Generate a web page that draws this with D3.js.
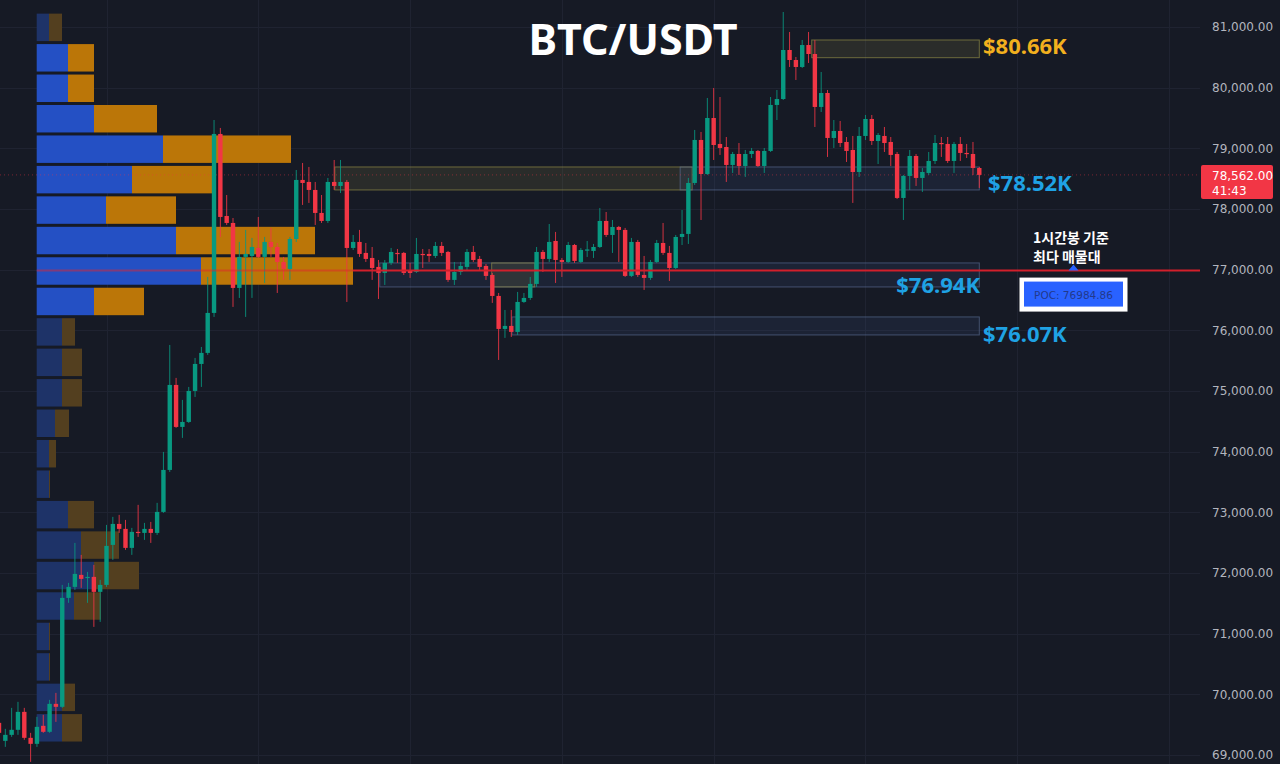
<!DOCTYPE html>
<html><head><meta charset="utf-8">
<script src="https://cdn.jsdelivr.net/npm/d3@7"></script>
<style>
html,body{margin:0;padding:0;background:#161a25;overflow:hidden;}
svg{display:block;}
</style></head><body>
<svg id="c" width="1280" height="764"></svg>
<script>
// ---------- DATA (1h candles, BTC/USDT) ----------
const opens = [69530,69233,69332,69415,69711,69283,69184,69481,69382,69843,
69794,71590,71771,71969,71920,71936,71689,71804,72463,72809,
72727,72414,72678,72661,72727,72661,73007,73699,75100,74408,
74490,75001,75446,75628,76287,79237,77885,77770,76699,77210,
77226,77358,77210,77457,77374,77127,77012,77506,78479,78446,
78314,77935,77803,78446,78380,78446,77358,77457,77276,77193,
77045,76946,77111,77276,77276,76979,76962,77259,77259,77226,
77391,77292,76831,76962,77045,77292,77177,77061,76913,76567,
76023,76073,75974,76468,76534,76765,77292,77177,77473,77160,
77127,77407,77127,77317,77309,77374,77803,77572,77704,77655,
76897,77457,76913,76864,77127,77440,77276,77028,77539,77589,
78429,79138,78577,79500,79072,79022,78726,78907,78709,78907,
78957,78709,78957,79715,79813,80621,80456,80341,80703,80555,
79682,79912,79171,79286,79105,78973,78610,79204,79484,79121,
79204,79105,78907,78182,78545,78874,78512,78594,78792,79088,
79072,78792,79072,78924,78907,78676];
const closes = [69365,69332,69415,69711,69283,69184,69464,69382,69843,69794,
71590,71771,71985,71903,71936,71689,71804,72447,72809,72727,
72414,72678,72661,72727,72661,73007,73699,75100,74408,74490,
75001,75446,75628,76287,79237,77869,77770,76699,77210,77259,
77374,77210,77457,77374,77127,77012,77506,78479,78429,78314,
77935,77803,78446,78380,78446,77358,77457,77259,77177,77028,
76946,77111,77292,77259,76946,76946,77259,77243,77226,77391,
77276,76831,76962,77061,77292,77160,77045,76897,76567,76023,
76073,75974,76468,76534,76765,77292,77177,77457,77160,77127,
77407,77144,77325,77333,77374,77803,77572,77704,77655,76897,
77457,76913,76864,77127,77440,77276,77028,77539,77589,78429,
79138,78577,79500,79055,79006,78726,78907,78709,78907,78957,
78709,78957,79715,79813,80621,80456,80341,80703,80555,79682,
79912,79171,79286,79088,78957,78610,79204,79484,79121,79220,
79088,78891,78182,78545,78874,78512,78610,78792,79088,79072,
78792,79072,78924,78907,78676,78562];
const highs = [69612,69431,69777,69876,69777,69365,69629,69662,69909,70024,
71804,71837,72496,72299,72018,72134,71887,72793,72925,72958,
72875,72744,73123,72826,72842,73156,73996,75759,75216,74853,
75067,75545,75726,76880,79467,79336,78231,77852,77457,77655,
77523,77869,77539,77688,77440,77210,77539,78643,78759,78693,
78446,78231,78512,78808,78808,78479,77572,77655,77440,77374,
77160,77160,77358,77341,77292,77111,77523,77341,77341,77457,
77457,77309,77127,77127,77341,77391,77226,77094,76946,76616,
76336,76336,76633,76616,76880,77374,77325,77753,77622,77193,
77457,77424,77358,77473,77424,78017,77951,77819,77721,77688,
77523,77490,77226,77160,77490,77770,77391,77572,77984,78512,
79303,79270,79830,79995,79846,79187,78940,79088,78973,79006,
78973,79006,79846,79962,81247,80918,80506,80786,80918,80786,
80258,79962,79467,79451,79187,79204,79352,79550,79550,79253,
79352,79187,78940,78561,78973,78907,78676,78940,79220,79187,
79187,79105,79187,79072,79105,78693];
const lows = [69316,69134,69299,69332,69250,68887,69134,69365,69365,69546,
69777,71508,71722,71755,71508,71112,71194,71771,72216,72661,
72381,72299,72595,72546,72496,72628,72991,73666,74392,74227,
74474,74902,75067,75595,76221,77539,77737,76386,76534,76221,
76534,77193,76781,77210,76616,76831,76831,77457,78067,78100,
77737,77770,77770,78314,78264,76468,77325,77210,77127,76831,
76517,76748,77078,77111,76913,76864,76946,77028,77127,77193,
77226,76798,76748,76913,76995,77127,76995,76831,76452,75512,
75875,75891,75924,76452,76501,76715,76962,77127,76781,76880,
77111,77111,77111,77210,77193,77358,77539,77276,77127,76880,
76880,76880,76666,76831,77111,77243,76814,77012,77407,77424,
78396,77819,78561,78808,78891,78446,78594,78561,78528,78841,
78693,78594,78940,79467,79797,80341,80127,80324,80407,79352,
79599,78858,79006,79022,78775,78100,78528,79138,79055,78742,
78940,78709,78165,77819,78314,78380,78281,78561,78742,78858,
78759,78594,78792,78841,78561,78347];

// Volume profile (24 price bins of ~$502, top bin first)
const profileTopPrice = 81245;
const profileBinSize = 502;
const profileBuy  = [123,313,313,573,1263,953,693,1393,1643,573,253,253,253,183,123,123,313,443,573,373,123,123,253,253];
const profileSell = [130,260,260,630,1280,840,700,1390,1520,500,130,200,200,140,70,10,260,380,450,270,10,10,130,200];
const valueArea = [false,true,true,true,true,true,true,true,true,true,false,false,false,false,false,false,false,false,false,false,false,false,false,false];

// Price axis ticks
const priceTicks = [69000,70000,71000,72000,73000,74000,75000,76000,77000,78000,79000,80000,81000];
// Daily separators (candle index)
const dayBreaks = [17,41,65,89,113,137,161,185];

// Zones: [startIndex, endIndex, top price, bottom price, type]
const zoneStart = [128.5, 53.1, 107.7, 60.2, 77.9, 81.1];
const zoneEnd   = [155, 109.6, 155, 155, 84.7, 155];
const zoneTop   = [80786, 78693, 78693, 77111, 77111, 76221];
const zoneBot   = [80494, 78314, 78314, 76715, 76715, 75924];
const zoneType  = ['supply','supply','demand','demand','supply','demand'];

// Level labels
const levelText  = ['$80.66K','$78.52K','$76.94K','$76.07K'];
const levelPrice = [80700, 78450, 76760, 75950];
const levelColor = ['#f2b01e','#1fa2e4','#1fa2e4','#1fa2e4'];

const pocPrice = 76984.86;
const lastPrice = 78562;
const countdown = '41:43';
const title = 'BTC/USDT';
const noteLines = ['1시간봉 기준','최다 매물대'];

// ---------- DRAW ----------
const W = 1280, H = 764, plotRight = 1200;
const svg = d3.select('#c');
svg.append('rect').attr('width', W).attr('height', H).attr('fill', '#161a25');

const n = opens.length;
const y = d3.scaleLinear().domain([69000, 81000]).range([755, 27]);
const x = d3.scaleLinear().domain([0, n - 1]).range([-1, 979.3]);

// grid
const grid = svg.append('g');
grid.selectAll('line.h').data(priceTicks).join('line')
  .attr('x1', 0).attr('x2', plotRight)
  .attr('y1', d => Math.round(y(d)) + 0.5).attr('y2', d => Math.round(y(d)) + 0.5)
  .attr('stroke', '#1f2331').attr('stroke-width', 1);
grid.selectAll('line.v').data(dayBreaks).join('line')
  .attr('x1', d => Math.round(x(d)) + 0.5).attr('x2', d => Math.round(x(d)) + 0.5)
  .attr('y1', 0).attr('y2', H)
  .attr('stroke', '#1f2331').attr('stroke-width', 1);

// zones
const zg = svg.append('g');
zoneStart.forEach((s, i) => {
  const sup = zoneType[i] === 'supply';
  zg.append('rect')
    .attr('x', x(s)).attr('y', y(zoneTop[i]))
    .attr('width', x(zoneEnd[i]) - x(s))
    .attr('height', y(zoneBot[i]) - y(zoneTop[i]))
    .attr('fill', sup ? 'rgba(140,135,70,0.17)' : 'rgba(70,100,160,0.13)')
    .attr('stroke', sup ? 'rgba(150,145,70,0.65)' : 'rgba(95,115,155,0.6)')
    .attr('stroke-width', 1);
});

// volume profile
const vx = d3.scaleLinear().domain([0, 3160]).range([36.7, 352.7]);
const pg = svg.append('g');
profileBuy.forEach((b, i) => {
  const top = y(profileTopPrice - i * profileBinSize) + 1.5;
  const bot = y(profileTopPrice - (i + 1) * profileBinSize) - 1.5;
  const va = valueArea[i];
  pg.append('rect').attr('x', vx(0)).attr('y', top)
    .attr('width', vx(b) - vx(0)).attr('height', bot - top)
    .attr('fill', va ? '#2450c4' : '#1e3368');
  pg.append('rect').attr('x', vx(b)).attr('y', top)
    .attr('width', vx(b + profileSell[i]) - vx(b)).attr('height', bot - top)
    .attr('fill', va ? '#bb7608' : '#533f1f');
});

// last price dotted line
svg.append('line').attr('x1', 0).attr('x2', plotRight)
  .attr('y1', y(lastPrice)).attr('y2', y(lastPrice))
  .attr('stroke', '#f23645').attr('stroke-opacity', 0.45)
  .attr('stroke-width', 1).attr('stroke-dasharray', '1,3');

// candles
const up = '#089981', dn = '#f23645';
const cg = svg.append('g');
const idx = d3.range(n);
cg.selectAll('line.w').data(idx).join('line')
  .attr('x1', i => x(i)).attr('x2', i => x(i))
  .attr('y1', i => y(highs[i])).attr('y2', i => y(lows[i]))
  .attr('stroke', i => closes[i] >= opens[i] ? up : dn)
  .attr('stroke-opacity', 0.85).attr('stroke-width', 1);
const bw = 4.4;
cg.selectAll('rect.b').data(idx).join('rect')
  .attr('x', i => x(i) - bw / 2)
  .attr('y', i => y(Math.max(opens[i], closes[i])))
  .attr('width', bw)
  .attr('height', i => Math.max(1.2, Math.abs(y(opens[i]) - y(closes[i]))))
  .attr('fill', i => closes[i] >= opens[i] ? up : dn);

// POC line
const pocY = y(pocPrice);
svg.append('line').attr('x1', vx(0)).attr('x2', vx(profileBuy[8] + profileSell[8]))
  .attr('y1', pocY).attr('y2', pocY)
  .attr('stroke', '#e0242e').attr('stroke-opacity', 0.5).attr('stroke-width', 2);
svg.append('line').attr('x1', vx(profileBuy[8] + profileSell[8])).attr('x2', plotRight)
  .attr('y1', pocY).attr('y2', pocY)
  .attr('stroke', '#d21f2b').attr('stroke-width', 2);

// level labels
levelText.forEach((t, i) => {
  const right = i === 2;
  svg.append('text')
    .attr('x', right ? 980 : (i === 1 ? 988 : 983))
    .attr('y', y(levelPrice[i]))
    .attr('text-anchor', right ? 'end' : 'start')
    .attr('dominant-baseline', 'central')
    .attr('fill', levelColor[i])
    .style('font-family', '"Noto Sans", "Open Sans", sans-serif')
    .style('font-weight', 'bold').style('font-size', '22px')
    .text(t);
});

// title
svg.append('text').attr('x', 633).attr('y', 55).attr('text-anchor', 'middle')
  .attr('fill', '#ffffff')
  .style('font-family', '"Noto Sans", "Open Sans", sans-serif')
  .style('font-weight', 'bold').style('font-size', '43px')
  .text(title);

// note
noteLines.forEach((t, i) => {
  svg.append('text').attr('x', 1033).attr('y', 243 + i * 19)
    .attr('fill', '#ffffff')
    .style('font-family', '"Noto Sans CJK KR", sans-serif')
    .style('font-weight', 'bold').style('font-size', '14px')
    .text(t);
});

// POC badge
const bx = 1073.5;
svg.append('path')
  .attr('d', `M${bx - 5},${pocY} L${bx},${pocY - 6} L${bx + 5},${pocY} Z`)
  .attr('fill', '#2962ff');
svg.append('rect').attr('x', bx - 54).attr('y', pocY + 7).attr('width', 108).attr('height', 34)
  .attr('fill', '#ffffff');
svg.append('rect').attr('x', bx - 49.5).attr('y', pocY + 11).attr('width', 99).attr('height', 25)
  .attr('fill', '#2962ff');
svg.append('text').attr('x', bx).attr('y', pocY + 24).attr('text-anchor', 'middle')
  .attr('dominant-baseline', 'central').attr('fill', '#22398c')
  .style('font-family', '"DejaVu Sans", sans-serif').style('font-size', '10.5px')
  .text('POC: ' + pocPrice.toFixed(2));

// right price axis
const axis = d3.axisRight(y).tickValues(priceTicks)
  .tickFormat(d3.format(',.2f')).tickSize(0).tickPadding(12);
const ga = svg.append('g').attr('transform', `translate(${plotRight},0)`).call(axis);
ga.select('.domain').remove();
ga.selectAll('text').attr('fill', '#b2b5be')
  .style('font-family', '"DejaVu Sans", sans-serif').style('font-size', '12px');

// last price badge
const ly = y(lastPrice);
svg.append('rect').attr('x', 1201).attr('y', ly - 10).attr('width', 72).attr('height', 34)
  .attr('rx', 2).attr('fill', '#f23645');
svg.append('text').attr('x', 1212).attr('y', ly + 5).attr('fill', '#ffffff')
  .style('font-family', '"DejaVu Sans", sans-serif').style('font-size', '12px')
  .text(d3.format(',.2f')(lastPrice));
svg.append('text').attr('x', 1212).attr('y', ly + 20).attr('fill', '#ffffff')
  .style('font-family', '"DejaVu Sans", sans-serif').style('font-size', '12px')
  .text(countdown);
</script>
</body></html>
